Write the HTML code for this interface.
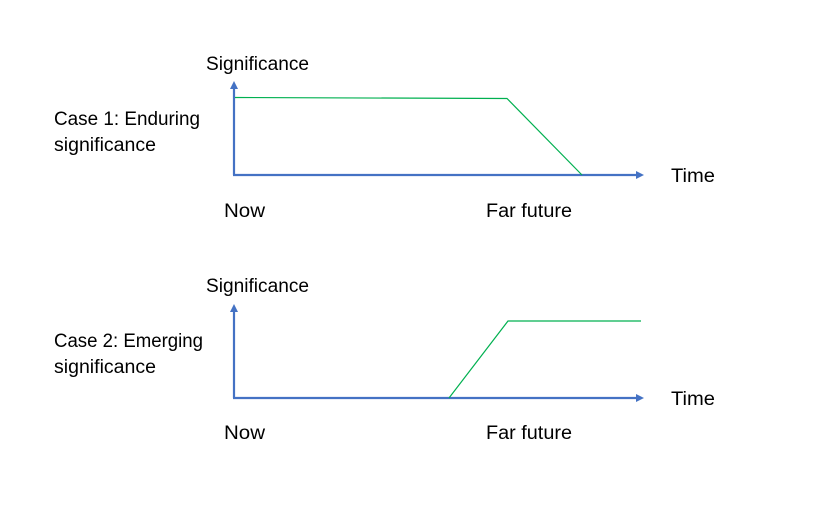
<!DOCTYPE html>
<html><head><style>html,body{margin:0;padding:0;background:#fff}</style></head>
<body>
<svg width="820" height="515" viewBox="0 0 820 515" xmlns="http://www.w3.org/2000/svg" font-family="Liberation Sans, sans-serif" font-size="19" fill="#000">
<g stroke="#4472C4" stroke-width="2.2" fill="none">
<line x1="234" y1="175" x2="234" y2="88"/>
<line x1="233" y1="175" x2="637" y2="175"/>
<line x1="234" y1="398" x2="234" y2="311"/>
<line x1="233" y1="398" x2="637" y2="398"/>
</g>
<g fill="#4472C4">
<path d="M230,89 L234,81 L238,89 Z"/>
<path d="M636,171 L644,175 L636,179 Z"/>
<path d="M230,312 L234,304 L238,312 Z"/>
<path d="M636,394 L644,398 L636,402 Z"/>
</g>
<g stroke="#00B050" stroke-width="1.2" fill="none">
<polyline points="235,97.5 507,98.5 582,175"/>
<polyline points="449,398 508,321 641,321"/>
</g>
<text x="206" y="70" textLength="103" lengthAdjust="spacingAndGlyphs">Significance</text>
<text x="54" y="125" textLength="146" lengthAdjust="spacingAndGlyphs">Case 1: Enduring</text>
<text x="54" y="151" textLength="102" lengthAdjust="spacingAndGlyphs">significance</text>
<text x="671" y="182" textLength="44" lengthAdjust="spacingAndGlyphs">Time</text>
<text x="224" y="217" textLength="41" lengthAdjust="spacingAndGlyphs">Now</text>
<text x="486" y="217" textLength="86" lengthAdjust="spacingAndGlyphs">Far future</text>
<text x="206" y="292" textLength="103" lengthAdjust="spacingAndGlyphs">Significance</text>
<text x="54" y="347" textLength="149" lengthAdjust="spacingAndGlyphs">Case 2: Emerging</text>
<text x="54" y="373" textLength="102" lengthAdjust="spacingAndGlyphs">significance</text>
<text x="671" y="405" textLength="44" lengthAdjust="spacingAndGlyphs">Time</text>
<text x="224" y="439" textLength="41" lengthAdjust="spacingAndGlyphs">Now</text>
<text x="486" y="439" textLength="86" lengthAdjust="spacingAndGlyphs">Far future</text>
</svg>
</body></html>
